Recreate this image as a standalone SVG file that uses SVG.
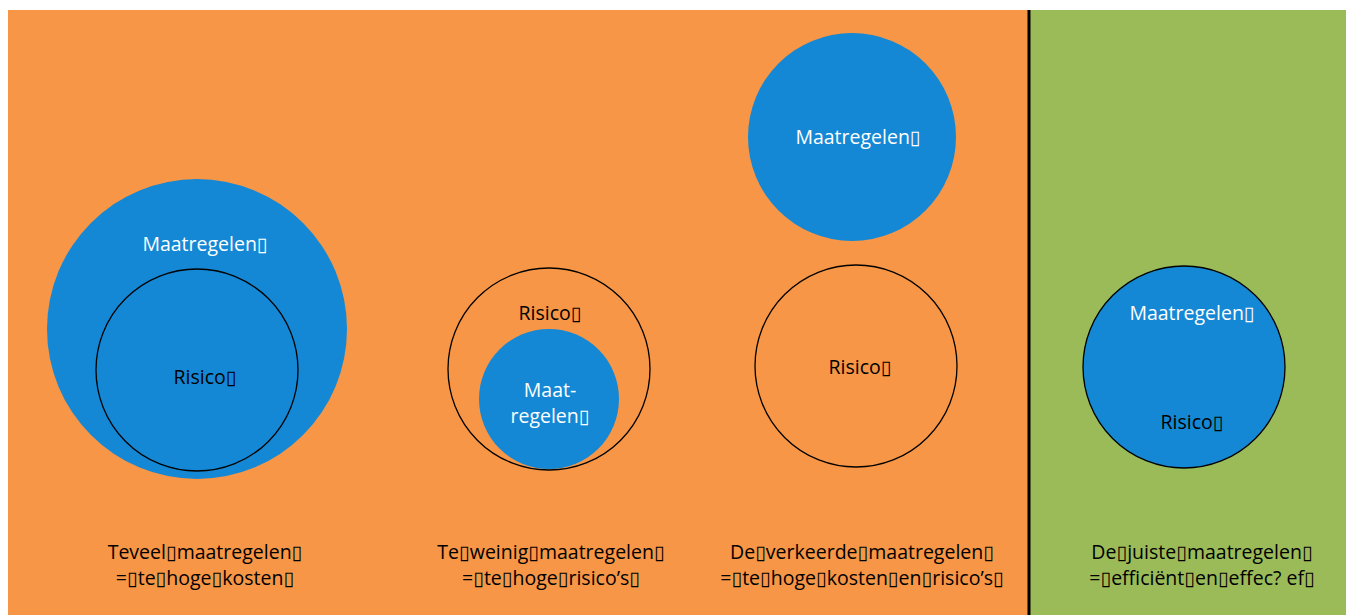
<svg xmlns="http://www.w3.org/2000/svg" width="1346" height="615" viewBox="0 0 1346 615">
<style>
.t{font-family:"Open Sans","DejaVu Sans",sans-serif;font-size:19.5px;fill:#000;text-anchor:middle}
.w{fill:#fff}
.blue{fill:#1488D4}
.ol{fill:none;stroke:#000;stroke-width:1.3}
</style>
<rect x="0" y="0" width="1346" height="615" fill="#fff"/>
<rect x="8" y="10" width="1021" height="605" fill="#F79646"/>
<rect x="1029" y="10" width="317" height="605" fill="#9BBB59"/>
<line x1="1029" y1="10" x2="1029" y2="615" stroke="#000" stroke-width="3"/>
<g id="n1">
<circle class="blue" cx="197" cy="329" r="150"/>
<circle class="ol" cx="197" cy="370" r="101"/>
<text class="t w" x="205" y="251">Maatregelen▯</text>
<text class="t" x="205" y="384">Risico▯</text>
</g>
<g id="n2">
<circle class="ol" cx="549" cy="369" r="101"/>
<circle class="blue" cx="549" cy="399" r="70"/>
<text class="t" x="550" y="320">Risico▯</text>
<text class="t w" x="550" y="397">Maat-</text>
<text class="t w" x="550" y="423">regelen▯</text>
</g>
<g id="n3">
<circle class="blue" cx="852" cy="137" r="104"/>
<circle class="ol" cx="856" cy="366" r="101"/>
<text class="t w" x="858" y="144">Maatregelen▯</text>
<text class="t" x="860" y="374">Risico▯</text>
</g>
<g id="n4">
<circle class="blue" cx="1184" cy="367" r="101"/>
<circle class="ol" cx="1184" cy="367" r="101"/>
<text class="t w" x="1192" y="320">Maatregelen▯</text>
<text class="t" x="1192" y="429">Risico▯</text>
</g>
<g id="labels">
<text class="t" x="205" y="559">Teveel▯maatregelen▯</text>
<text class="t" x="205" y="585">=▯te▯hoge▯kosten▯</text>
<text class="t" x="551" y="559">Te▯weinig▯maatregelen▯</text>
<text class="t" x="551" y="585">=▯te▯hoge▯risico’s▯</text>
<text class="t" x="862" y="559">De▯verkeerde▯maatregelen▯</text>
<text class="t" x="862" y="585">=▯te▯hoge▯kosten▯en▯risico’s▯</text>
<text class="t" x="1202" y="559">De▯juiste▯maatregelen▯</text>
<text class="t" x="1202" y="585">=▯efficiënt▯en▯effec? ef▯</text>
</g>
<g id="connectors"></g>
</svg>
